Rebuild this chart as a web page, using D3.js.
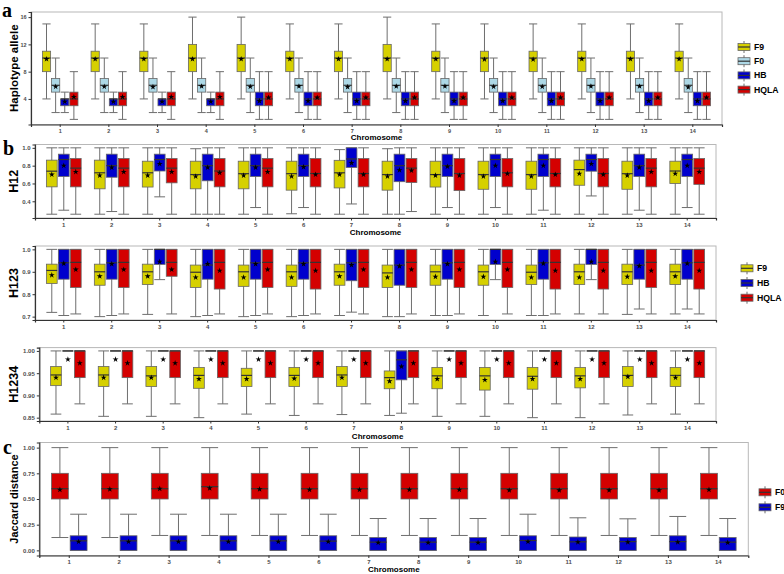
<!DOCTYPE html>
<html>
<head>
<meta charset="utf-8">
<script src="https://cdn.jsdelivr.net/npm/d3@7"></script>
<style>
  body { margin: 0; background: #fff; }
  text { font-family: "Liberation Sans", Arial, sans-serif; }
</style>
</head>
<body>
<script>
// chromosome categories
const chromosomes = d3.range(1, 15).map(String);

// every row: [lower whisker, Q1, median, Q3, upper whisker, mean]
// panel a - haplotype alleles
const alleleF9 = [
  [4, 8, 10, 11, 15, 9.85], [4, 8, 10, 11, 15, 9.85], [4, 8, 10, 11, 15, 9.85], [4, 8, 10, 12, 16, 9.85],
  [4, 8, 10, 12, 16, 9.85], [4, 8, 10, 11, 15, 9.85], [4, 8, 10, 11, 15, 9.85], [4, 8, 10, 12, 16, 9.85],
  [4, 8, 10, 11, 15, 9.85], [4, 8, 10, 11, 15, 9.8], [4, 8, 10, 11, 15, 9.8], [4, 8, 10, 11, 15, 9.85],
  [4, 8, 10, 11, 15, 9.85], [4, 8, 10, 11, 15, 9.85]
];
const alleleF0 = [
  [2, 5, 6, 7, 10, 5.8], [2, 5, 6, 7, 10, 5.8], [2, 5, 6, 7, 10, 5.75], [2, 5, 6, 7, 10, 5.85],
  [2, 5, 6, 7, 10, 5.8], [2, 5, 6, 7, 10, 5.85], [2, 5, 6, 7, 10, 5.75], [2, 5, 6, 7, 10, 5.85],
  [2, 5, 6, 7, 10, 5.85], [2, 5, 6, 7, 10, 5.8], [2, 5, 6, 7, 10, 5.8], [2, 5, 6, 7, 10, 5.85],
  [2, 5, 6, 7, 10, 5.85], [2, 5, 6, 7, 10, 5.7]
];
const alleleHB = [
  [2, 3, 4, 4, 5, 3.6], [2, 3, 4, 4, 5, 3.6], [2, 3, 4, 4, 5, 3.6], [2, 3, 4, 4, 5, 3.6],
  [1, 3, 4, 5, 8, 3.7], [1, 3, 4, 5, 8, 3.7], [1, 3, 4, 5, 8, 3.7], [1, 3, 4, 5, 8, 3.7],
  [1, 3, 4, 5, 8, 3.7], [1, 3, 4, 5, 8, 3.7], [1, 3, 4, 5, 8, 3.7], [1, 3, 4, 5, 8, 3.7],
  [1, 3, 4, 5, 8, 3.7], [1, 3, 4, 5, 8, 3.7]
];
const alleleHQLA = [
  [1, 3, 4, 5, 8, 4.3], [1, 3, 4, 5, 8, 4.3], [1, 3, 4, 5, 8, 4.3], [1, 3, 4, 5, 8, 4.3],
  [1, 3, 4, 5, 8, 4.2], [1, 3, 4, 5, 8, 4.2], [1, 3, 4, 5, 8, 4.2], [1, 3, 4, 5, 8, 4.2],
  [1, 3, 4, 5, 8, 4.2], [1, 3, 4, 5, 8, 4.2], [1, 3, 4, 5, 8, 4.2], [1, 3, 4, 5, 8, 4.2],
  [1, 3, 4, 5, 8, 4.2], [1, 3, 4, 5, 8, 4.2]
];

// panel b - H12
const h12F9 = [
  [0.255, 0.562, 0.738, 0.862, 1.0, 0.70], [0.255, 0.54, 0.72, 0.862, 1.0, 0.69],
  [0.255, 0.56, 0.72, 0.85, 1.0, 0.69], [0.255, 0.54, 0.70, 0.85, 0.99, 0.68],
  [0.255, 0.54, 0.71, 0.85, 1.0, 0.69], [0.26, 0.525, 0.71, 0.85, 1.0, 0.68],
  [0.255, 0.55, 0.72, 0.86, 0.98, 0.70], [0.255, 0.525, 0.70, 0.85, 0.99, 0.68],
  [0.255, 0.56, 0.70, 0.85, 1.0, 0.69], [0.255, 0.535, 0.70, 0.85, 1.0, 0.68],
  [0.255, 0.535, 0.70, 0.85, 1.0, 0.68], [0.255, 0.58, 0.756, 0.862, 1.0, 0.71],
  [0.255, 0.535, 0.71, 0.85, 1.0, 0.69], [0.255, 0.60, 0.74, 0.85, 1.0, 0.71]
];
const h12HB = [
  [0.30, 0.678, 0.869, 0.929, 1.0, 0.80], [0.285, 0.67, 0.80, 0.929, 1.0, 0.78],
  [0.45, 0.74, 0.869, 0.929, 1.0, 0.82], [0.255, 0.63, 0.80, 0.929, 1.0, 0.78],
  [0.33, 0.678, 0.80, 0.929, 1.0, 0.78], [0.33, 0.678, 0.80, 0.929, 1.0, 0.785],
  [0.37, 0.78, 0.875, 1.0, 1.0, 0.83], [0.255, 0.62, 0.80, 0.929, 1.0, 0.75],
  [0.33, 0.678, 0.80, 0.929, 1.0, 0.79], [0.33, 0.678, 0.869, 0.929, 1.0, 0.80],
  [0.30, 0.678, 0.869, 0.929, 1.0, 0.80], [0.46, 0.738, 0.869, 0.929, 1.0, 0.82],
  [0.30, 0.678, 0.80, 0.929, 1.0, 0.78], [0.33, 0.678, 0.869, 0.929, 1.0, 0.80]
];
const h12HQLA = [
  [0.255, 0.562, 0.772, 0.88, 1.0, 0.73], [0.255, 0.562, 0.772, 0.88, 1.0, 0.73],
  [0.255, 0.607, 0.772, 0.88, 1.0, 0.73], [0.255, 0.562, 0.74, 0.88, 1.0, 0.72],
  [0.255, 0.562, 0.772, 0.88, 1.0, 0.73], [0.255, 0.562, 0.712, 0.88, 1.0, 0.70],
  [0.255, 0.562, 0.712, 0.88, 1.0, 0.70], [0.285, 0.61, 0.772, 0.88, 1.0, 0.745],
  [0.255, 0.52, 0.712, 0.88, 1.0, 0.69], [0.255, 0.562, 0.72, 0.88, 1.0, 0.71],
  [0.255, 0.562, 0.712, 0.88, 1.0, 0.70], [0.255, 0.562, 0.712, 0.88, 1.0, 0.70],
  [0.255, 0.562, 0.772, 0.88, 1.0, 0.73], [0.255, 0.59, 0.772, 0.88, 1.0, 0.73]
];

// panel b - H123
const h123F9 = [
  [0.719, 0.848, 0.906, 0.934, 1.0, 0.885], [0.70, 0.84, 0.90, 0.934, 1.0, 0.88],
  [0.71, 0.843, 0.90, 0.934, 1.0, 0.88], [0.70, 0.83, 0.898, 0.93, 1.0, 0.875],
  [0.70, 0.835, 0.90, 0.93, 1.0, 0.875], [0.70, 0.835, 0.90, 0.93, 1.0, 0.875],
  [0.705, 0.84, 0.90, 0.934, 1.0, 0.88], [0.70, 0.83, 0.895, 0.93, 1.0, 0.875],
  [0.705, 0.84, 0.90, 0.93, 1.0, 0.878], [0.705, 0.84, 0.90, 0.93, 1.0, 0.878],
  [0.705, 0.843, 0.898, 0.93, 1.0, 0.875], [0.712, 0.843, 0.90, 0.934, 1.0, 0.875],
  [0.71, 0.843, 0.90, 0.934, 1.0, 0.878], [0.712, 0.843, 0.90, 0.934, 1.0, 0.88]
];
const h123HB = [
  [0.705, 0.867, 0.94, 1.0, 1.0, 0.937], [0.705, 0.867, 0.94, 1.0, 1.0, 0.935],
  [0.865, 0.933, 1.0, 1.0, 1.0, 0.945], [0.705, 0.867, 0.93, 1.0, 1.0, 0.935],
  [0.705, 0.867, 0.94, 1.0, 1.0, 0.935], [0.705, 0.867, 0.94, 1.0, 1.0, 0.935],
  [0.72, 0.86, 0.94, 1.0, 1.0, 0.93], [0.70, 0.84, 0.93, 1.0, 1.0, 0.925],
  [0.705, 0.867, 0.94, 1.0, 1.0, 0.935], [0.865, 0.933, 1.0, 1.0, 1.0, 0.945],
  [0.705, 0.867, 0.94, 1.0, 1.0, 0.937], [0.865, 0.933, 1.0, 1.0, 1.0, 0.945],
  [0.734, 0.867, 0.93, 1.0, 1.0, 0.926], [0.734, 0.867, 0.94, 1.0, 1.0, 0.937]
];
const h123HQLA = [
  [0.712, 0.83, 0.942, 1.0, 1.0, 0.91], [0.712, 0.83, 0.942, 1.0, 1.0, 0.91],
  [0.712, 0.88, 0.942, 1.0, 1.0, 0.91], [0.712, 0.823, 0.942, 1.0, 1.0, 0.905],
  [0.712, 0.83, 0.942, 1.0, 1.0, 0.91], [0.712, 0.823, 0.942, 1.0, 1.0, 0.905],
  [0.712, 0.83, 0.942, 1.0, 1.0, 0.91], [0.712, 0.83, 0.942, 1.0, 1.0, 0.91],
  [0.712, 0.83, 0.942, 1.0, 1.0, 0.91], [0.712, 0.83, 0.942, 1.0, 1.0, 0.91],
  [0.712, 0.823, 0.942, 1.0, 1.0, 0.905], [0.712, 0.823, 0.942, 1.0, 1.0, 0.905],
  [0.712, 0.83, 0.942, 1.0, 1.0, 0.905], [0.712, 0.823, 0.942, 1.0, 1.0, 0.905]
];

// panel b - H1234
const h1234F9 = [
  [0.858, 0.922, 0.946, 0.965, 1.0, 0.94], [0.853, 0.92, 0.946, 0.965, 1.0, 0.94],
  [0.853, 0.92, 0.944, 0.965, 1.0, 0.94], [0.85, 0.916, 0.945, 0.963, 1.0, 0.937],
  [0.858, 0.92, 0.945, 0.961, 1.0, 0.937], [0.855, 0.92, 0.945, 0.963, 1.0, 0.938],
  [0.857, 0.92, 0.946, 0.965, 1.0, 0.94], [0.855, 0.915, 0.94, 0.955, 1.0, 0.932],
  [0.853, 0.915, 0.944, 0.963, 1.0, 0.937], [0.853, 0.912, 0.944, 0.963, 1.0, 0.935],
  [0.85, 0.914, 0.943, 0.963, 1.0, 0.937], [0.85, 0.917, 0.944, 0.963, 1.0, 0.937],
  [0.856, 0.92, 0.945, 0.965, 1.0, 0.942], [0.858, 0.92, 0.945, 0.963, 1.0, 0.94]
];
const h1234HB = [
  [1, 1, 1, 1, 1, 0.981], [1, 1, 1, 1, 1, 0.981], [1, 1, 1, 1, 1, 0.981], [1, 1, 1, 1, 1, 0.981],
  [1, 1, 1, 1, 1, 0.981], [1, 1, 1, 1, 1, 0.981], [1, 1, 1, 1, 1, 0.981],
  [0.86, 0.935, 0.98, 1, 1, 0.965],
  [1, 1, 1, 1, 1, 0.981], [1, 1, 1, 1, 1, 0.981], [1, 1, 1, 1, 1, 0.981], [1, 1, 1, 1, 1, 0.981],
  [1, 1, 1, 1, 1, 0.981], [1, 1, 1, 1, 1, 0.981]
];
const h1234HQLA = chromosomes.map(() => [0.881, 0.94, 1.0, 1.0, 1.0, 0.9725]);

// panel c - Jaccard distance
const jacF0 = [
  [0.125, 0.5, 0.6, 0.75, 1, 0.59], [0.125, 0.5, 0.6, 0.75, 1, 0.595],
  [0.145, 0.5, 0.6, 0.75, 1, 0.6], [0.145, 0.5, 0.62, 0.75, 1, 0.605],
  [0.145, 0.5, 0.6, 0.75, 1, 0.595], [0.145, 0.5, 0.6, 0.75, 1, 0.59],
  [0.145, 0.5, 0.6, 0.75, 1, 0.59], [0.145, 0.5, 0.6, 0.75, 1, 0.59],
  [0.145, 0.5, 0.6, 0.75, 1, 0.59], [0.145, 0.5, 0.6, 0.75, 1, 0.585],
  [0.145, 0.5, 0.6, 0.75, 1, 0.585], [0.145, 0.5, 0.6, 0.75, 1, 0.585],
  [0.145, 0.5, 0.6, 0.75, 1, 0.585], [0.145, 0.5, 0.6, 0.75, 1, 0.59]
];
const jacF9 = [
  [0, 0, 0.093, 0.142, 0.352, 0.085], [0, 0, 0.093, 0.142, 0.352, 0.085],
  [0, 0, 0.093, 0.142, 0.352, 0.085], [0, 0, 0.093, 0.142, 0.352, 0.085],
  [0, 0, 0.093, 0.142, 0.352, 0.085], [0, 0, 0.09, 0.142, 0.352, 0.085],
  [0, 0, 0.08, 0.125, 0.31, 0.075], [0, 0, 0.08, 0.125, 0.31, 0.075],
  [0, 0, 0.08, 0.125, 0.31, 0.075], [0, 0, 0.096, 0.142, 0.352, 0.085],
  [0, 0, 0.083, 0.13, 0.317, 0.08], [0, 0, 0.085, 0.125, 0.307, 0.08],
  [0, 0, 0.085, 0.142, 0.33, 0.08], [0, 0, 0.08, 0.125, 0.31, 0.075]
];

const colF9 = "#d6d000", colF0 = "#add8e6", colHB = "#0000cd", colRed = "#d40000";

const svg = d3.select("body").append("svg")
    .attr("width", 784)
    .attr("height", 574);

const star = d3.symbol().type(d3.symbolStar).size(11);

function drawPanel(o) {
  const g = svg.append("g");
  const x = d3.scaleBand().domain(chromosomes)
      .range([o.left, o.right]).paddingInner(0).paddingOuter(0.1);
  const names = o.series.map(s => s.name);
  const dodge = d3.scaleBand().domain(names)
      .range([-0.375 * x.step(), 0.375 * x.step()]);
  const y = d3.scaleLinear().domain(o.domain).range([o.bottom, o.top]);

  // panel border
  g.append("rect")
      .attr("x", o.left).attr("y", o.top)
      .attr("width", o.right - o.left).attr("height", o.bottom - o.top)
      .attr("fill", "#fff").attr("stroke", "#b8b8b8").attr("stroke-width", 1);

  const bw = dodge.bandwidth() * 0.9;
  o.series.forEach(s => {
    s.data.forEach((d, i) => {
      const cx = x(chromosomes[i]) + x.bandwidth() / 2 + dodge(s.name) + dodge.bandwidth() / 2;
      const b = g.append("g");
      // whisker and caps
      b.append("line").attr("x1", cx).attr("x2", cx)
          .attr("y1", y(d[0])).attr("y2", y(d[4]))
          .attr("stroke", "#6e6e6e").attr("stroke-width", 1);
      [d[0], d[4]].forEach(v => {
        b.append("line").attr("x1", cx - bw / 2).attr("x2", cx + bw / 2)
            .attr("y1", y(v)).attr("y2", y(v))
            .attr("stroke", "#6e6e6e").attr("stroke-width", 1);
      });
      b.append("rect")
          .attr("x", cx - bw / 2).attr("width", bw)
          .attr("y", y(d[3])).attr("height", Math.max(0, y(d[1]) - y(d[3])))
          .attr("fill", s.color).attr("stroke", "#666").attr("stroke-width", 0.8);
      b.append("line").attr("x1", cx - bw / 2).attr("x2", cx + bw / 2)
          .attr("y1", y(d[2])).attr("y2", y(d[2]))
          .attr("stroke", "#333").attr("stroke-width", 1.2);
      b.append("path").attr("d", star)
          .attr("transform", "translate(" + cx + "," + y(d[5]) + ")")
          .attr("fill", "#000");
    });
  });

  // axes
  const ya = g.append("g").attr("transform", "translate(" + o.left + ",0)")
      .call(d3.axisLeft(y).tickValues(o.ticks).tickFormat(o.fmt).tickSize(2.5).tickPadding(2));
  const xa = g.append("g").attr("transform", "translate(0," + o.bottom + ")")
      .call(d3.axisBottom(x).tickSize(2.5).tickPadding(2));
  [ya, xa].forEach(a => {
    a.select(".domain").attr("stroke", "#333").attr("stroke-width", 1.2);
    a.selectAll(".tick line").attr("stroke", "#333");
    a.selectAll(".tick text").attr("fill", "#4d4d4d")
        .style("font-size", o.tickSize + "px").style("font-weight", "bold");
  });

  // titles
  g.append("text")
      .attr("transform", "translate(" + o.titleX + "," + (o.top + o.bottom) / 2 + ") rotate(-90)")
      .attr("text-anchor", "middle").attr("dy", "0.35em")
      .style("font-size", o.titleSize + "px").style("font-weight", "bold")
      .text(o.yTitle);
  if (o.xTitleY) {
    g.append("text")
        .attr("x", (o.left + o.right) / 2).attr("y", o.xTitleY)
        .attr("text-anchor", "middle")
        .style("font-size", "8px").style("font-weight", "bold")
        .text("Chromosome");
  }
}

function drawLegend(x0, y0, gap, items) {
  const g = svg.append("g");
  items.forEach((it, i) => {
    const cy = y0 + i * gap;
    g.append("line").attr("x1", x0 + 6).attr("x2", x0 + 6)
        .attr("y1", cy - 6).attr("y2", cy + 6).attr("stroke", "#6e6e6e");
    g.append("rect").attr("x", x0).attr("y", cy - 3.5)
        .attr("width", 12).attr("height", 7)
        .attr("fill", it.color).attr("stroke", "#666").attr("stroke-width", 0.8);
    g.append("line").attr("x1", x0).attr("x2", x0 + 12)
        .attr("y1", cy).attr("y2", cy).attr("stroke", "#333").attr("stroke-width", 1.2);
    g.append("text").attr("x", x0 + 16).attr("y", cy).attr("dy", "0.35em")
        .style("font-size", "8.7px").style("font-weight", "bold")
        .text(it.name);
  });
}

function panelLetter(x, y, t) {
  svg.append("text").attr("x", x).attr("y", y)
      .style("font-family", "'Liberation Serif', 'DejaVu Serif', serif")
      .style("font-size", "20px").style("font-weight", "bold")
      .text(t);
}

// panel a
drawPanel({
  left: 31, right: 722, top: 12, bottom: 124.5,
  domain: [0.25, 16.75], ticks: [4, 8, 12, 16], fmt: d3.format("d"), tickSize: 5.5,
  yTitle: "Haplotype allele", titleSize: 11.5, titleX: 14, xTitleY: 140,
  series: [
    {name: "F9", color: colF9, data: alleleF9},
    {name: "F0", color: colF0, data: alleleF0},
    {name: "HB", color: colHB, data: alleleHB},
    {name: "HQLA", color: colRed, data: alleleHQLA}
  ]
});
drawLegend(738, 47, 14.2, [
  {name: "F9", color: colF9}, {name: "F0", color: colF0},
  {name: "HB", color: colHB}, {name: "HQLA", color: colRed}
]);

// panel b
const bSeries = (f9, hb, hq) => [
  {name: "F9", color: colF9, data: f9},
  {name: "HB", color: colHB, data: hb},
  {name: "HQLA", color: colRed, data: hq}
];
drawPanel({
  left: 35, right: 716, top: 144.5, bottom: 218,
  domain: [0.2125, 1.0375], ticks: [0.4, 0.6, 0.8, 1.0], fmt: d3.format(".1f"), tickSize: 6,
  yTitle: "H12", titleSize: 12.5, titleX: 14, xTitleY: 235,
  series: bSeries(h12F9, h12HB, h12HQLA)
});
drawPanel({
  left: 35, right: 716, top: 246, bottom: 320,
  domain: [0.685, 1.015], ticks: [0.7, 0.8, 0.9, 1.0], fmt: d3.format(".1f"), tickSize: 6,
  yTitle: "H123", titleSize: 12.5, titleX: 14, xTitleY: null,
  series: bSeries(h123F9, h123HB, h123HQLA)
});
drawPanel({
  left: 39.3, right: 716, top: 347.6, bottom: 421,
  domain: [0.8425, 1.0075], ticks: [0.85, 0.90, 0.95, 1.00], fmt: d3.format(".2f"), tickSize: 6,
  yTitle: "H1234", titleSize: 12.5, titleX: 14, xTitleY: 439,
  series: bSeries(h1234F9, h1234HB, h1234HQLA)
});
drawLegend(741, 268.3, 14.7, [
  {name: "F9", color: colF9}, {name: "HB", color: colHB}, {name: "HQLA", color: colRed}
]);

// panel c
drawPanel({
  left: 39.3, right: 748.3, top: 442.5, bottom: 555.5,
  domain: [-0.05, 1.05], ticks: [0, 0.25, 0.5, 0.75, 1], fmt: d3.format(".2f"), tickSize: 6,
  yTitle: "Jaccard distance", titleSize: 11, titleX: 14, xTitleY: 572,
  series: [
    {name: "F0", color: colRed, data: jacF0},
    {name: "F9", color: colHB, data: jacF9}
  ]
});
drawLegend(759, 492.3, 15, [
  {name: "F0", color: colRed}, {name: "F9", color: colHB}
]);

panelLetter(2, 17, "a");
panelLetter(3, 155, "b");
panelLetter(3, 454, "c");
</script>
</body>
</html>
